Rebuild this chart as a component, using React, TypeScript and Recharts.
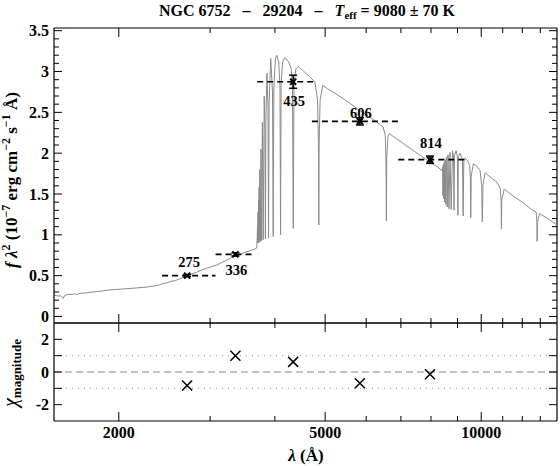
import { ComposedChart, Line, Scatter, XAxis, YAxis, ReferenceLine, ErrorBar } from 'recharts'

const W = 560
const H = 466
const LEFT = 54
const RIGHT = 3
const TOP = 28
const MID = 323
const BOTTOM = 421
const PLOT_W = W - LEFT - RIGHT
const AXIS_W = 40
const AXIS_H = 20
const FONT = '"Liberation Serif", "Times New Roman", serif'

// model spectrum, f * lambda^2 in 1e-7 erg cm-2 s-1 A
const specWave = [
  1500, 1515, 1530, 1545, 1555, 1562, 1570, 1585, 1600, 1625, 1645, 1660, 1672, 1700, 1740, 1780, 1820,
  1870, 1920, 1970, 2020, 2070, 2120, 2170, 2220, 2270, 2310, 2350, 2390, 2430, 2470, 2520, 2570, 2620,
  2670, 2710, 2760, 2820, 2880, 2950, 3020, 3090, 3160, 3230, 3300, 3370, 3440, 3520, 3600, 3646, 3690,
  3698, 3703, 3707, 3711, 3715, 3720, 3724, 3729, 3734, 3741, 3750, 3760, 3771, 3784, 3798, 3815, 3828,
  3835, 3843, 3862, 3880, 3889, 3898, 3927, 3958, 3970, 3982, 4010, 4032, 4070, 4092, 4102, 4112, 4140,
  4183, 4250, 4300, 4325, 4340, 4355, 4390, 4437, 4550, 4680, 4780, 4835, 4855, 4861, 4868, 4890, 4946,
  5050, 5177, 5500, 5840, 6200, 6468, 6530, 6553, 6563, 6573, 6610, 6651, 6750, 7000, 7400, 7970, 8200,
  8394, 8425, 8438, 8450, 8467, 8483, 8502, 8520, 8545, 8568, 8598, 8628, 8665, 8705, 8750, 8805, 8845,
  8863, 8880, 8945, 8995, 9015, 9035, 9105, 9200, 9229, 9255, 9310, 9400, 9500, 9530, 9546, 9565, 9660,
  9800, 9950, 10020, 10049, 10080, 10176, 10400, 10700, 10880, 10925, 10938, 10955, 11072, 11500, 12000,
  12500, 12760, 12805, 12818, 12835, 12957, 13500, 14000,
]
const specFlux = [
  0.26, 0.255, 0.25, 0.255, 0.235, 0.22, 0.25, 0.265, 0.27, 0.27, 0.28, 0.265, 0.28, 0.285, 0.29, 0.3, 0.305,
  0.315, 0.325, 0.33, 0.335, 0.34, 0.345, 0.35, 0.355, 0.36, 0.37, 0.375, 0.385, 0.4, 0.41, 0.43, 0.44, 0.46,
  0.48, 0.5, 0.52, 0.54, 0.565, 0.59, 0.61, 0.63, 0.66, 0.69, 0.72, 0.745, 0.765, 0.79, 0.81, 0.82, 0.84,
  0.95, 1.12, 0.9, 1.28, 0.9, 1.42, 0.91, 1.58, 0.91, 1.8, 0.92, 2.05, 0.93, 2.38, 0.94, 2.7, 2.3,
  0.95, 2.4, 2.98, 2.55, 0.96, 2.6, 3.16, 2.75, 0.98, 2.8, 3.16, 3.2, 3.12, 2.8, 1.0, 2.85, 3.12,
  3.17, 3.12, 3.04, 2.8, 1.08, 2.85, 3.03, 3.06, 3.0, 2.93, 2.87, 2.65, 2.05, 1.12, 2.1, 2.65, 2.83,
  2.79, 2.75, 2.64, 2.52, 2.41, 2.32, 2.22, 1.85, 1.17, 1.95, 2.2, 2.24, 2.21, 2.14, 2.03, 1.89, 1.84,
  1.79, 1.83, 1.48, 1.86, 1.44, 1.89, 1.4, 1.92, 1.37, 1.95, 1.34, 1.98, 1.32, 2.01, 1.31, 2.03, 1.95,
  1.3, 1.97, 2.03, 1.96, 1.24, 1.96, 2.0, 1.92, 1.23, 1.9, 1.94, 1.91, 1.85, 1.7, 1.21, 1.72, 1.87,
  1.84, 1.79, 1.6, 1.16, 1.62, 1.76, 1.71, 1.65, 1.57, 1.4, 1.07, 1.42, 1.56, 1.48, 1.4,
  1.31, 1.28, 1.15, 0.92, 1.15, 1.26, 1.19, 1.12,
]

// HST photometry
const filterNames = ['275', '336', '435', '606', '814']
const filterWave = [2709, 3357, 4338, 5834, 7965]
const filterFlux = [0.5, 0.76, 2.875, 2.39, 1.92]
const filterErr = [0.012, 0.02, 0.08, 0.045, 0.045]
const filterLo = [2424, 3073, 3698, 4715, 6919]
const filterHi = [3073, 3606, 4815, 6992, 9446]
const chiValues = [-0.83, 0.99, 0.62, -0.69, -0.14]

const xTicks = [2000, 3000, 4000, 5000, 6000, 7000, 8000, 9000, 10000, 11000, 12000, 13000]
const xLabelled = [2000, 5000, 10000]
const fluxTicks = [
  0, 0.1, 0.2, 0.3, 0.4, 0.5, 0.6, 0.7, 0.8, 0.9, 1, 1.1, 1.2, 1.3, 1.4, 1.5, 1.6, 1.7, 1.8, 1.9, 2,
  2.1, 2.2, 2.3, 2.4, 2.5, 2.6, 2.7, 2.8, 2.9, 3, 3.1, 3.2, 3.3, 3.4, 3.5,
]
const fluxLabelled = [0, 0.5, 1, 1.5, 2, 2.5, 3, 3.5]
const chiTicks = [-2, -1, 0, 1, 2]
const chiLabelled = [-2, 0, 2]

const X_DOMAIN: [number, number] = [1500, 14000]
const FLUX_DOMAIN: [number, number] = [-0.08, 3.533]
const CHI_DOMAIN: [number, number] = [-3, 3]

// label offsets from the marker, px
const labelShift: Record<string, [number, number]> = {
  '275': [2, -14],
  '336': [1, 16],
  '435': [1, 19],
  '606': [1, -8],
  '814': [1, -17],
}

const spectrumData = specWave.map((w, i) => ({ w, f: specFlux[i] }))
const filterData = filterNames.map((name, i) => ({ name, w: filterWave[i], f: filterFlux[i], err: filterErr[i] }))
const chiData = filterNames.map((name, i) => ({ name, w: filterWave[i], chi: chiValues[i] }))

const near = (list: number[], v: number) => list.some((t) => Math.abs(t - v) < 1e-6)

function makeXTick(panelH: number, labels: boolean) {
  return function XTick(props: any) {
    const { x, y, payload } = props
    const major = near(xLabelled, payload.value)
    const len = major ? 9 : 5
    return (
      <g>
        <line x1={x} y1={y} x2={x} y2={y - len} stroke="#000" strokeWidth={1} />
        <line x1={x} y1={y - panelH} x2={x} y2={y - panelH + len} stroke="#000" strokeWidth={1} />
        {labels && major && (
          <text x={x} y={y + 17} textAnchor="middle" fontFamily={FONT} fontWeight="bold" fontSize={16} fill="#000">
            {payload.value}
          </text>
        )}
      </g>
    )
  }
}

function makeYTick(labelled: number[], majorLen: number, minorLen: number, fmt: (v: number) => string) {
  return function YTick(props: any) {
    const { x, y, payload } = props
    const major = near(labelled, payload.value)
    const len = major ? majorLen : minorLen
    return (
      <g>
        <line x1={x} y1={y} x2={x + len} y2={y} stroke="#000" strokeWidth={1} />
        <line x1={x + PLOT_W} y1={y} x2={x + PLOT_W - len} y2={y} stroke="#000" strokeWidth={1} />
        {major && (
          <text x={x - 5} y={y} dy="0.35em" textAnchor="end" fontFamily={FONT} fontWeight="bold" fontSize={16} fill="#000">
            {fmt(payload.value)}
          </text>
        )}
      </g>
    )
  }
}

const UpperXTick = makeXTick(MID - TOP, false)
const LowerXTick = makeXTick(BOTTOM - MID, true)
const FluxTick = makeYTick(fluxLabelled, 8, 5, (v) => String(v))
const ChiTick = makeYTick(chiLabelled, 8, 8, (v) => String(v))

function FilterMarker(props: any) {
  const { cx, cy, payload } = props
  const [dx, dy] = labelShift[payload.name] ?? [0, -12]
  return (
    <g>
      <path d={`M${cx - 3},${cy - 3}L${cx + 3},${cy + 3}M${cx - 3},${cy + 3}L${cx + 3},${cy - 3}`} stroke="#000" strokeWidth={2} />
      <circle cx={cx} cy={cy} r={1.8} fill="#000" />
      <text x={cx + dx} y={cy + dy} dy="0.35em" textAnchor="middle" fontFamily={FONT} fontWeight="bold" fontSize={14.5} fill="#000">
        {payload.name}
      </text>
    </g>
  )
}

function ChiMarker(props: any) {
  const { cx, cy } = props
  const s = 5
  return (
    <path d={`M${cx - s},${cy - s}L${cx + s},${cy + s}M${cx - s},${cy + s}L${cx + s},${cy - s}`} stroke="#000" strokeWidth={1.5} />
  )
}

const abs: React.CSSProperties = { position: 'absolute', left: 0, top: 0 }

function xAxis(tick: any) {
  return (
    <XAxis
      dataKey="w"
      type="number"
      scale="log"
      domain={X_DOMAIN}
      allowDataOverflow
      ticks={xTicks}
      interval={0}
      height={AXIS_H}
      tickSize={0}
      tickMargin={0}
      tickLine={false}
      axisLine={{ stroke: '#000', strokeWidth: 1.2 }}
      tick={tick}
    />
  )
}

function yAxis(domain: [number, number], ticks: number[], tick: any) {
  return (
    <YAxis
      type="number"
      domain={domain}
      allowDataOverflow
      ticks={ticks}
      interval={0}
      width={AXIS_W}
      tickSize={0}
      tickMargin={0}
      tickLine={false}
      axisLine={{ stroke: '#000', strokeWidth: 1.2 }}
      tick={tick}
    />
  )
}

export default function App() {
  return (
    <div style={{ position: 'absolute', left: 0, top: 0, width: W, height: H, background: '#fff' }}>
      <div style={abs}>
        <ComposedChart
          width={W}
          height={H}
          data={spectrumData}
          margin={{ top: TOP, right: RIGHT, left: LEFT - AXIS_W, bottom: H - MID - AXIS_H }}
        >
          {xAxis(UpperXTick)}
          {yAxis(FLUX_DOMAIN, fluxTicks, FluxTick)}
          <ReferenceLine y={FLUX_DOMAIN[1]} stroke="#000" strokeWidth={1.2} />
          <ReferenceLine x={X_DOMAIN[1]} stroke="#000" strokeWidth={1.2} />
          <Line dataKey="f" type="linear" stroke="#8a8a8a" strokeWidth={1} dot={false} isAnimationActive={false} />
          {filterNames.map((n, i) => (
            <ReferenceLine
              key={n}
              segment={[
                { x: filterLo[i], y: filterFlux[i] },
                { x: filterHi[i], y: filterFlux[i] },
              ]}
              stroke="#000"
              strokeWidth={1.7}
              strokeDasharray="6 4"
            />
          ))}
          <Scatter data={filterData} dataKey="f" shape={FilterMarker} isAnimationActive={false}>
            <ErrorBar dataKey="err" direction="y" width={4} stroke="#000" strokeWidth={1.5} />
          </Scatter>
        </ComposedChart>
      </div>
      <div style={abs}>
        <ComposedChart
          width={W}
          height={H}
          data={chiData}
          margin={{ top: MID, right: RIGHT, left: LEFT - AXIS_W, bottom: H - BOTTOM - AXIS_H }}
        >
          {xAxis(LowerXTick)}
          {yAxis(CHI_DOMAIN, chiTicks, ChiTick)}
          <ReferenceLine y={CHI_DOMAIN[1]} stroke="#000" strokeWidth={1.2} />
          <ReferenceLine x={X_DOMAIN[1]} stroke="#000" strokeWidth={1.2} />
          <ReferenceLine y={1} stroke="#888" strokeWidth={1} strokeDasharray="1 5" />
          <ReferenceLine y={-1} stroke="#888" strokeWidth={1} strokeDasharray="1 5" />
          <ReferenceLine y={0} stroke="#888" strokeWidth={1.2} strokeDasharray="7 4" />
          <Scatter dataKey="chi" shape={ChiMarker} isAnimationActive={false} />
        </ComposedChart>
      </div>
      <svg width={W} height={H} style={{ ...abs, pointerEvents: 'none' }}>
        <text x={307} y={16} textAnchor="middle" fontFamily={FONT} fontWeight="bold" fontSize={16} fill="#000" style={{ whiteSpace: 'pre' }}>
          {'NGC 6752   \u2013   29204   \u2013   '}
          <tspan fontStyle="italic">T</tspan>
          <tspan fontSize={11} dy={3}>eff</tspan>
          <tspan dy={-3}>{' = 9080 \u00b1 70 K'}</tspan>
        </text>
        <text
          transform="translate(17,180) rotate(-90)"
          textAnchor="middle"
          fontFamily={FONT}
          fontWeight="bold"
          fontSize={17}
          fill="#000"
        >
          <tspan fontStyle="italic">f</tspan>
          <tspan fontStyle="italic">{' \u03bb'}</tspan>
          <tspan fontSize={12} dy={-7}>2</tspan>
          <tspan dy={7}>{' (10'}</tspan>
          <tspan fontSize={12} dy={-7}>{'\u22127'}</tspan>
          <tspan dy={7}>{' erg cm'}</tspan>
          <tspan fontSize={12} dy={-7}>{'\u22122'}</tspan>
          <tspan dy={7}>{' s'}</tspan>
          <tspan fontSize={12} dy={-7}>{'\u22121'}</tspan>
          <tspan dy={7}>{' \u00c5)'}</tspan>
        </text>
        <text transform="translate(17,373) rotate(-90)" textAnchor="middle" fontFamily={FONT} fill="#000">
          <tspan fontStyle="italic" fontSize={20}>{'\u03c7'}</tspan>
          <tspan fontSize={13} fontWeight="bold" dy={4}>magnitude</tspan>
        </text>
        <text x={306} y={461} textAnchor="middle" fontFamily={FONT} fontWeight="bold" fontSize={17} fill="#000">
          <tspan fontStyle="italic">{'\u03bb'}</tspan>
          <tspan>{' (\u00c5)'}</tspan>
        </text>
      </svg>
    </div>
  )
}
